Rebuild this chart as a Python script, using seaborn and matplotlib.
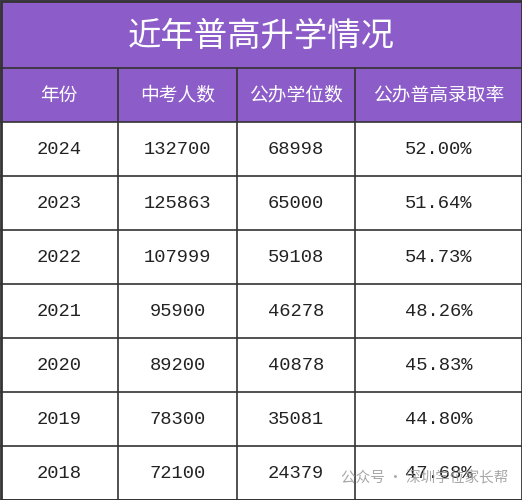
import matplotlib
matplotlib.use("Agg")
import matplotlib.pyplot as plt
import seaborn as sns
from matplotlib.patches import Rectangle

sns.set_theme(style="white")
plt.rcParams['font.family'] = ['Noto Sans CJK SC', 'DejaVu Sans']

title = "近年普高升学情况"
headers = ["年份", "中考人数", "公办学位数", "公办普高录取率"]
years = ["2024", "2023", "2022", "2021", "2020", "2019", "2018"]
exam_counts = ["132700", "125863", "107999", "95900", "89200", "78300", "72100"]
public_seats = ["68998", "65000", "59108", "46278", "40878", "35081", "24379"]
rates = ["52.00%", "51.64%", "54.73%", "48.26%", "45.83%", "44.80%", "47.68%"]

W, H = 522, 500
fig = plt.figure(figsize=(W/100, H/100), dpi=100)
ax = fig.add_axes([0, 0, 1, 1])
ax.set_xlim(0, W); ax.set_ylim(H, 0); ax.axis("off")

purple = "#8c5cc8"
line = "#333333"
col_x = [0, 118, 237, 355, W]
title_h, head_h = 68, 54
row_h = (H - title_h - head_h) / len(years)

ax.add_patch(Rectangle((0, 0), W, title_h + head_h, color=purple, lw=0))
ax.text(W/2, title_h/2 + 2, title, color="white", fontsize=24, ha="center", va="center")
for i, h in enumerate(headers):
    ax.text((col_x[i]+col_x[i+1])/2, title_h + head_h/2, h, color="white",
            fontsize=13.5, ha="center", va="center", fontweight="medium")

cols = [years, exam_counts, public_seats, rates]
for r in range(len(years)):
    y0 = title_h + head_h + r*row_h
    for c in range(4):
        ax.text((col_x[c]+col_x[c+1])/2, y0 + row_h/2, cols[c][r], color="#222222",
                fontsize=13.5, ha="center", va="center", family="Liberation Mono")

lw = 1.2
ax.plot([0, W], [title_h, title_h], color=line, lw=lw)
for r in range(len(years)+1):
    y = title_h + head_h + r*row_h
    ax.plot([0, W], [y, y], color=line, lw=lw)
for x in col_x[1:-1]:
    ax.plot([x, x], [title_h, H], color=line, lw=lw)
ax.add_patch(Rectangle((0.5, 0.5), W-1, H-1, fill=False, ec=line, lw=2))

ax.text(508, 478, "公众号 · 深圳学位家长帮", color="#999999", fontsize=10.5,
        ha="right", va="center", alpha=0.85)

fig.savefig("out.png", dpi=100)
